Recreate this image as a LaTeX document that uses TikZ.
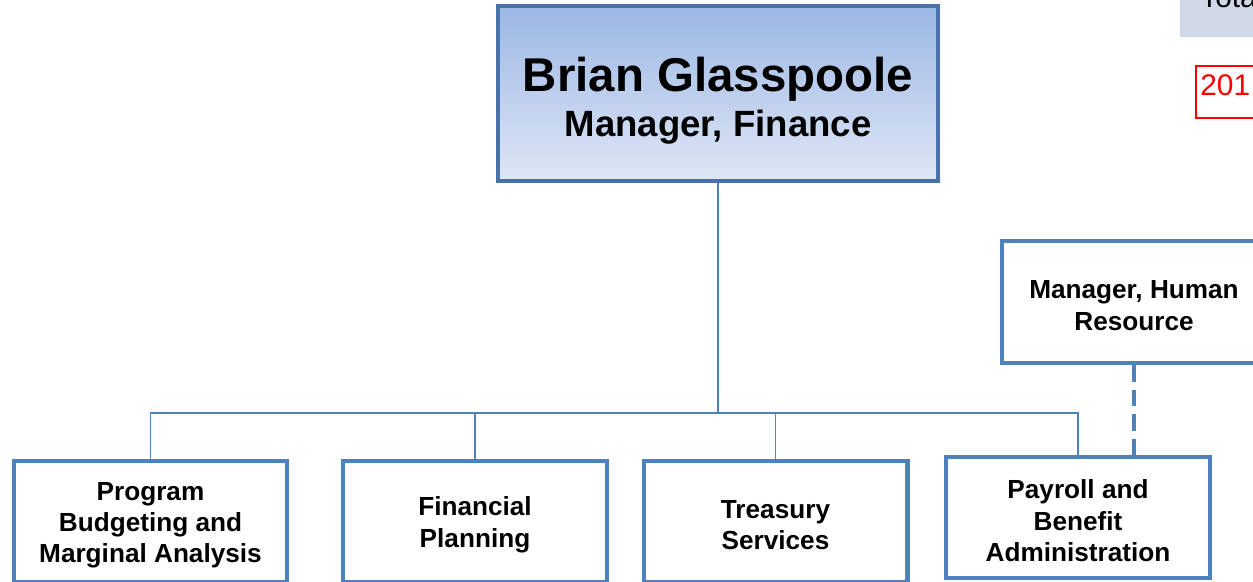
\documentclass[tikz,border=0pt]{standalone}
\usepackage{fontspec}
\setmainfont{Liberation Sans}
\usetikzlibrary{arrows.meta, positioning}

\definecolor{boxblue}{RGB}{79,129,189}
\definecolor{topblue}{RGB}{72,114,168}
\definecolor{gradtop}{RGB}{155,183,228}
\definecolor{gradbot}{RGB}{223,231,246}
\definecolor{tabgray}{RGB}{208,216,232}
\newcommand{\ustrut}{\rule{0pt}{14.5pt}}

\begin{document}
\begin{tikzpicture} [>=latex, x=0.02cm, y=-0.02cm,
		unitbox/.style={draw=boxblue, line width=2.3pt, fill=white, align=center,
			minimum width=5.28cm, minimum height=2.42cm, inner sep=0pt,
			font=\fontsize{14.9}{17.9}\selectfont\bfseries},
		headbox/.style={draw=topblue, line width=2.3pt, top color=gradtop, bottom color=gradbot,
			align=center, minimum width=8.8cm, minimum height=3.5cm, inner sep=0pt},
		conn/.style={draw=boxblue, line width=0.9pt},
		hrdash/.style={draw=boxblue, line width=2.3pt, dash pattern=on 9.5pt off 4.5pt}]
			\useasboundingbox (0,0) rectangle (1253,581);
			\begin{scope}
			\clip (0,0) rectangle (1253,581);
			%%% Riquadri in alto a destra
			\fill[tabgray] (1180,-20) rectangle (1275,37);
			\node[anchor=base west, inner sep=0pt, font=\fontsize{17}{20}\selectfont] (total) at (1200,8) {Total};
			\draw[red, line width=1.1pt] (1196,66) rectangle (1275,118);
			\node[anchor=base west, inner sep=0pt, red, font=\fontsize{17}{20}\selectfont] (year) at (1200,95) {201};
			%%% Responsabile
			\node[headbox] (mgr) at (718,93.5) {\rule{0pt}{28pt}\fontsize{27}{32}\selectfont\bfseries Brian Glasspoole\\[4pt]
				\fontsize{20.8}{25}\selectfont\bfseries Manager, Finance};
			%%% Unita
			\node[unitbox, minimum width=5.46cm] (prog) at (150.5,521.5) {\ustrut Program\\Budgeting and\\Marginal Analysis};
			\node[unitbox] (plan) at (475,521.5) {\ustrut Financial\\Planning};
			\node[unitbox] (treas) at (775.5,521.5) {\ustrut Treasury\\Services};
			\node[unitbox] (pay) at (1078,517.5) {\ustrut Payroll and\\Benefit\\Administration};
			\node[unitbox, minimum height=2.44cm] (hr) at (1134,302) {\ustrut Manager, Human\\Resource};
			%%% Collegamenti
			\coordinate (bus) at (718,413);
			\draw[conn] (mgr.south) -- (bus);
			\draw[conn] (bus) -| (prog.north);
			\draw[conn] (bus) -| (plan.north);
			\draw[conn] (bus) -| (treas.north);
			\draw[conn] (bus) -| (pay.north);
			\draw[hrdash] (hr.south) -- (hr.south |- pay.north);
			\end{scope}
		\end{tikzpicture}
\end{document}
